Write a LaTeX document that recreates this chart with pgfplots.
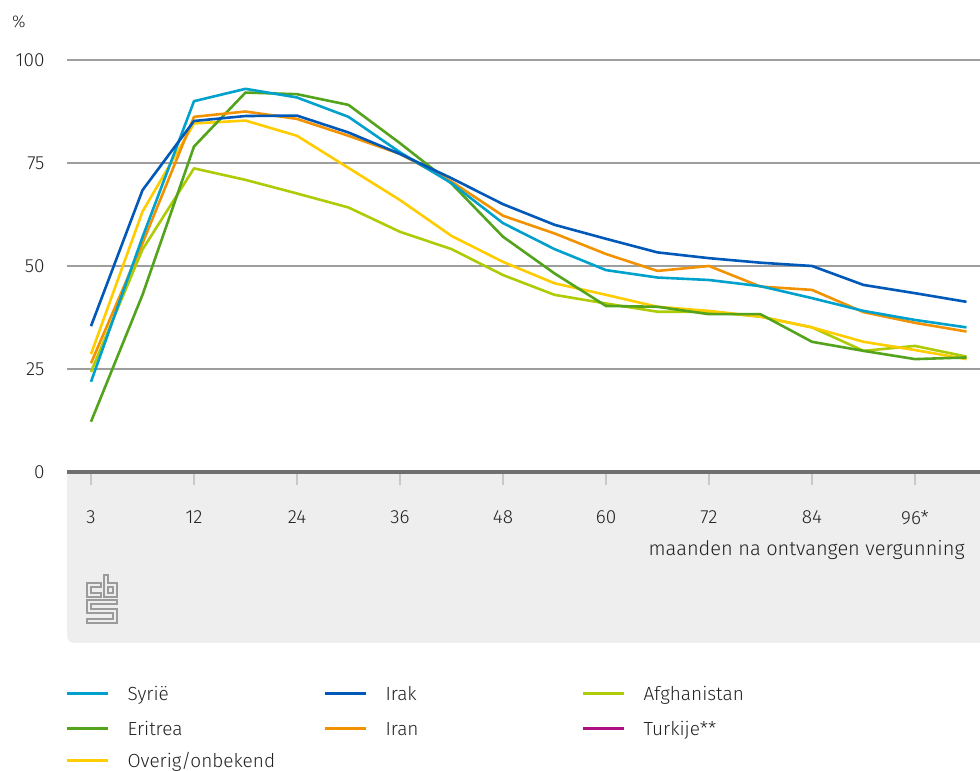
\documentclass[border=0pt]{standalone}
\usepackage{pgfplots}
\pgfplotsset{compat=1.18}
\usepackage{fontspec}
\setmainfont{Fira Sans Light}
\definecolor{csyr}{HTML}{00A1CD}
\definecolor{cirk}{HTML}{0058B8}
\definecolor{cafg}{HTML}{AFCB05}
\definecolor{ceri}{HTML}{53A31D}
\definecolor{cirn}{HTML}{F39200}
\definecolor{ctur}{HTML}{AF0E80}
\definecolor{cove}{HTML}{FFCC00}
\definecolor{bgc}{HTML}{EEEEEE}
\definecolor{gridc}{HTML}{9E9E9E}
\definecolor{axisc}{HTML}{6F6F6F}
\definecolor{tickc}{HTML}{C8C8C8}
\definecolor{logoc}{HTML}{9B9B9B}
\definecolor{txtc}{HTML}{222222}

\pgfplotstableread{
i syr irk afg eri irn ove
0 21.9 35.4 24.3 12.2 26.4 28.6
1 57.0 68.4 54.0 43.0 55.5 63.2
2 90.0 85.2 73.7 79.0 86.2 84.6
3 93.0 86.4 70.9 92.1 87.5 85.3
4 90.9 86.5 67.6 91.7 85.7 81.6
5 86.2 82.4 64.2 89.1 81.6 73.8
6 77.6 77.2 58.3 79.8 77.2 66.0
7 70.1 71.3 54.1 70.0 70.5 57.3
8 60.4 65.0 47.8 57.1 62.2 51.0
9 54.1 60.0 43.0 48.2 57.9 45.8
10 49.0 56.6 40.9 40.3 52.9 43.0
11 47.2 53.3 38.9 40.1 48.8 40.1
12 46.6 51.9 38.9 38.3 50.0 39.1
13 45.1 50.8 37.7 38.3 45.0 37.7
14 42.2 50.0 35.1 31.6 44.2 35.1
15 39.1 45.4 29.4 29.4 38.8 31.6
16 36.9 43.4 30.6 27.4 36.2 29.6
17 35.1 41.3 28.0 27.8 34.1 27.4
}\datatable

\begin{document}
\begin{tikzpicture}[x=1pt,y=1pt]
\useasboundingbox (0,0) rectangle (980,771);
% grey band below the axis
\fill[bgc] (67,299) -- (67,135) arc[start angle=180,end angle=270,radius=7] -- (980,128) -- (980,299) -- cycle;
\begin{axis}[
  at={(67pt,299pt)}, anchor=south west,
  scale only axis, width=913pt, height=412pt,
  xmin=-0.466, xmax=17.262, ymin=0, ymax=100,
  axis line style={draw=none},
  xtick={0,2,...,16}, xticklabels={3,12,24,36,48,60,72,84,96*},
  ytick={0,25,50,75,100},
  ymajorgrids, grid style={color=gridc, line width=1.3pt},
  tick align=outside, xtick pos=bottom, ytick pos=left,
  major tick length=13pt,
  x tick style={color=tickc, line width=1.5pt},
  y tick style={draw=none},
  xticklabel style={font=\fontsize{19}{22}\selectfont, text=txtc, yshift=-22pt},
  yticklabel style={font=\fontsize{19}{22}\selectfont, text=txtc, anchor=east, xshift=-6pt},
  /pgf/number format/assume math mode=true,
  xlabel={maanden na ontvangen vergunning},
  xlabel style={at={(axis description cs:0.987,-0.2015)}, anchor=base east, font=\fontsize{20}{23}\selectfont, text=txtc},
  clip=false,
  every axis plot/.append style={line width=2.6pt, no markers, line join=round},
]
\addplot[color=cafg] table[x=i, y=afg] {\datatable};
\addplot[color=cove] table[x=i, y=ove] {\datatable};
\addplot[color=ceri] table[x=i, y=eri] {\datatable};
\addplot[color=cirn] table[x=i, y=irn] {\datatable};
\addplot[color=csyr] table[x=i, y=syr] {\datatable};
\addplot[color=cirk] table[x=i, y=irk] {\datatable};
\draw[axisc, line width=3.5pt] (axis cs:-0.466,0) -- (axis cs:17.262,0);
\end{axis}
% percent label
\node[anchor=base west, inner sep=0pt, font=\fontsize{17}{20}\selectfont, text=txtc] at (12,743) {\%};
% CBS logo
\begin{scope}[shift={(87,148)}, logoc, line width=1.2pt]
\draw (14,40) -- (0,40) -- (0,26) -- (14,26) -- (14,30) -- (4,30) -- (4,36) -- (14,36) -- cycle;
\draw (17,48) -- (21,48) -- (21,40) -- (30,40) -- (30,26) -- (17,26) -- cycle;
\draw (21,30) rectangle (26,36);
\draw (0,23) -- (30,23) -- (30,19) -- (4,19) -- (4,14) -- (30,14) -- (30,0) -- (0,0) -- (0,4) -- (26,4) -- (26,10) -- (0,10) -- cycle;
\end{scope}
% legend
\begin{scope}[line width=3pt]
\foreach \c/\xx/\yy/\t in {csyr/67/77/{Syrië}, cirk/325/77/{Irak}, cafg/583/77/{Afghanistan},
                          ceri/67/42/{Eritrea}, cirn/325/42/{Iran}, ctur/583/42/{Turkije**},
                          cove/67/10/{Overig/onbekend}} {
  \draw[\c] (\xx,\yy) -- ++(41,0);
  \node[anchor=base west, inner sep=0pt, font=\fontsize{19}{22}\selectfont, text=txtc] at (\xx+59,\yy-6.5) {\t};
}
\end{scope}
\end{tikzpicture}
\end{document}
